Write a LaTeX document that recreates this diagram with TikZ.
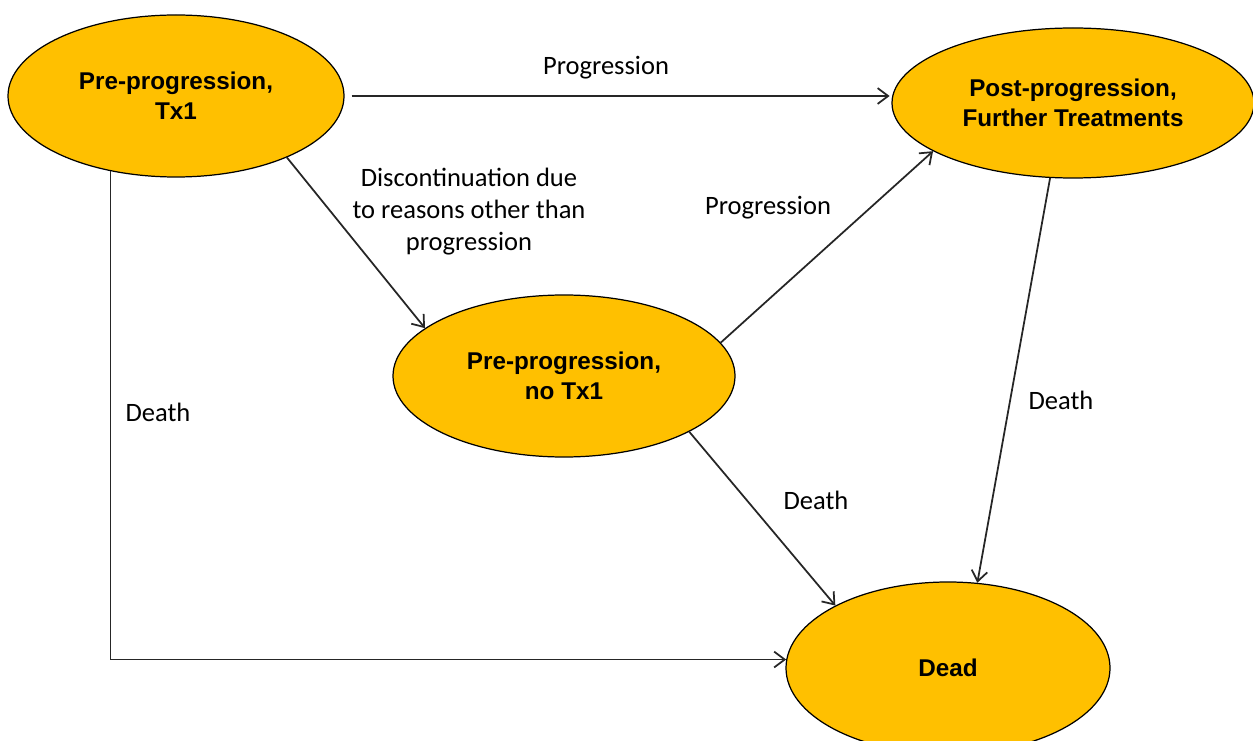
\documentclass[tikz,border=0pt]{standalone}
\usepackage{fontspec}
\setmainfont{Carlito}
\newfontfamily\grassetto{Liberation Sans}
\usetikzlibrary{shapes.geometric,arrows.meta}
\definecolor{giallo}{HTML}{FFC000}
\begin{document}
\begin{tikzpicture}[
			stato/.style={ellipse, fill=giallo, draw=black, line width=0.7pt, inner sep=0pt,
				align=center, font=\grassetto\bfseries\fontsize{13.8}{17.1}\selectfont},
			freccia/.style={line width=1pt, black!85, -{Straight Barb[length=6pt, width=9pt]}},
			etich/.style={align=center, font=\fontsize{15.1}{18.2}\selectfont},
			]
			\useasboundingbox (0,0) rectangle (25.06,14.8);
			
			%% =========================================================
			%% stati del modello
			%% =========================================================
			\node[stato, minimum width=6.72cm, minimum height=3.24cm] (tx1) at (3.52,12.88) {Pre-progression,\\Tx1};
			\node[stato, minimum width=7.24cm, minimum height=3.00cm] (post) at (21.46,12.74) {Post-progression,\\Further Treatments};
			\node[stato, minimum width=6.84cm, minimum height=3.24cm] (notx1) at (11.28,7.28) {Pre-progression,\\no Tx1};
			\begin{scope}
				\clip (0,0) rectangle (25.06,14.8);
				\node[stato, minimum width=6.48cm, minimum height=3.44cm] (dead) at (18.96,1.44) {Dead};
			\end{scope}
			
			%% =========================================================
			%% transizioni
			%% =========================================================
			\draw[freccia] ([xshift=4pt]tx1.east) -- ([xshift=-1pt]tx1.east -| post.west);
			\draw[freccia] (tx1.-29) -- (notx1.161);
			\draw[freccia] (notx1.12) -- (post.-161);
			\draw[freccia] (notx1.-24) -- (dead.151);
			\draw[freccia] (post.-107) -- (dead.71);
			\draw[freccia] (tx1.-131) |- (dead.177);
			
			%% etichette
			\node[etich] (lprog) at (12.12,13.44) {Progression};
			\node[etich] (ldisc) at (9.38,10.56) {Discontinuation due\\to reasons other than\\progression};
			\node[etich] (lprog2) at (15.36,10.64) {Progression};
			\node[etich] (ldeath1) at (3.16,6.56) {Death};
			\node[etich] (ldeath2) at (16.32,4.80) {Death};
			\node[etich] (ldeath3) at (21.22,6.80) {Death};
			
	\end{tikzpicture}
\end{document}
